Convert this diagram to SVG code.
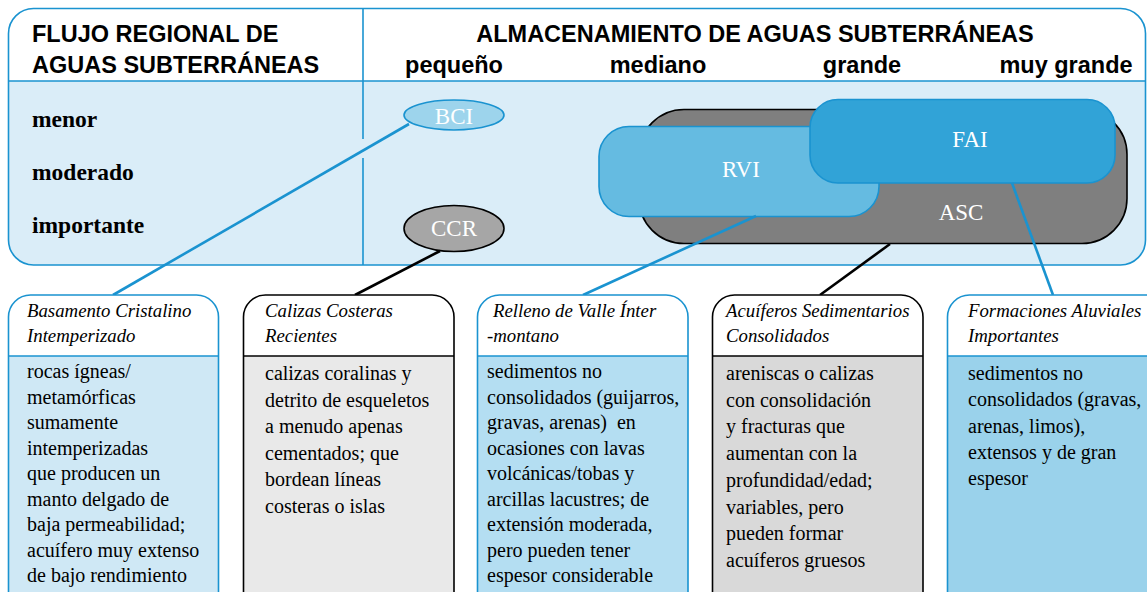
<svg xmlns="http://www.w3.org/2000/svg" width="1147" height="592" viewBox="0 0 1147 592">
<style>
.hs{font-family:"Liberation Sans",Arial,sans-serif;font-weight:bold;font-size:23.5px;fill:#000}
.rl{font-family:"Liberation Serif","Times New Roman",serif;font-weight:bold;font-size:23.5px;fill:#000}
.nl{font-family:"Liberation Serif","Times New Roman",serif;font-size:23px;fill:#fff;text-anchor:middle}
.tt{font-family:"Liberation Serif","Times New Roman",serif;font-style:italic;font-size:18.8px;fill:#000}
.bt{font-family:"Liberation Serif","Times New Roman",serif;font-size:20px;fill:#000}
.bl{stroke:#1a93d0;stroke-width:1.6}
.bk{stroke:#000;stroke-width:1.6}
.cb{stroke:#1a93d0;stroke-width:2.6;fill:none}
.ck{stroke:#000;stroke-width:2.6;fill:none}
</style>
<rect width="1147" height="592" fill="#fff"/>
<g id="panel">
<path d="M8.5,81 V33.5 A25,25 0 0 1 33.5,8.5 H1120.5 A25,25 0 0 1 1145.5,33.5 V81 Z" fill="#fff"/>
<path d="M8.5,81 V240 A25,25 0 0 0 33.5,265 H1120.5 A25,25 0 0 0 1145.5,240 V81 Z" fill="#daedf8"/>
<path d="M33.5,8.5 H1120.5 A25,25 0 0 1 1145.5,33.5 V240 A25,25 0 0 1 1120.5,265 H33.5 A25,25 0 0 1 8.5,240 V33.5 A25,25 0 0 1 33.5,8.5 Z" fill="none" class="bl"/>
<line x1="8.5" y1="81" x2="1145.5" y2="81" class="bl"/>
<line x1="363" y1="8.5" x2="363" y2="139" class="bl"/>
<line x1="363" y1="158" x2="363" y2="265" class="bl"/>
<text class="hs" x="32" y="42">FLUJO REGIONAL DE</text>
<text class="hs" x="32" y="73">AGUAS SUBTERRÁNEAS</text>
<text class="hs" x="755" y="42" text-anchor="middle">ALMACENAMIENTO DE AGUAS SUBTERRÁNEAS</text>
<text class="hs" x="454" y="73" text-anchor="middle">pequeño</text>
<text class="hs" x="658" y="73" text-anchor="middle">mediano</text>
<text class="hs" x="862" y="73" text-anchor="middle">grande</text>
<text class="hs" x="1066" y="73" text-anchor="middle">muy grande</text>
<text class="rl" x="32" y="127">menor</text>
<text class="rl" x="32" y="180">moderado</text>
<text class="rl" x="32" y="233">importante</text>
</g>
<g id="ASC">
<rect x="639" y="109.5" width="488" height="134" rx="45" fill="#7f7f7f" class="bk"/>
<text class="nl" x="961" y="220">ASC</text>
</g>
<g id="RVI">
<rect x="599" y="126.5" width="280" height="90" rx="30" fill="#65bbe1" class="bl"/>
<text class="nl" x="741" y="177">RVI</text>
</g>
<g id="FAI">
<rect x="810" y="99.5" width="305" height="83.5" rx="28" fill="#31a3d7" class="bl"/>
<text class="nl" x="970" y="147">FAI</text>
</g>
<g id="BCI">
<ellipse cx="454" cy="115" rx="50" ry="15" fill="#9dd4ec" class="bl"/>
<text class="nl" x="454" y="124">BCI</text>
</g>
<g id="CCR">
<ellipse cx="454" cy="228.5" rx="50" ry="23" fill="#a6a6a6" class="bk"/>
<text class="nl" x="454" y="236">CCR</text>
</g>
<g id="connectors">
<line x1="409" y1="124" x2="113" y2="295" class="cb"/>
<line x1="440" y1="251" x2="355" y2="295" class="ck"/>
<line x1="756" y1="216" x2="583" y2="295" class="cb"/>
<line x1="890" y1="244" x2="820" y2="295" class="ck"/>
<line x1="1012" y1="183" x2="1053" y2="295" class="cb"/>
</g>
<g id="box-bci">
<path d="M8.5,356 V317 A22,22 0 0 1 30.5,295 H196.5 A22,22 0 0 1 218.5,317 V356 Z" fill="#fff"/>
<rect x="8.5" y="356" width="210" height="260" fill="#cfe8f5"/>
<path d="M8.5,620 V317 A22,22 0 0 1 30.5,295 H196.5 A22,22 0 0 1 218.5,317 V620" fill="none" class="bl"/>
<line x1="8.5" y1="356" x2="218.5" y2="356" class="bl"/>
<text class="tt" x="27" y="317">Basamento Cristalino</text>
<text class="tt" x="27" y="342">Intemperizado</text>
<text class="bt" x="27" y="378">rocas ígneas/</text>
<text class="bt" x="27" y="403.5">metamórficas</text>
<text class="bt" x="27" y="429">sumamente</text>
<text class="bt" x="27" y="454.5">intemperizadas</text>
<text class="bt" x="27" y="480">que producen un</text>
<text class="bt" x="27" y="505.5">manto delgado de</text>
<text class="bt" x="27" y="531">baja permeabilidad;</text>
<text class="bt" x="27" y="556.5">acuífero muy extenso</text>
<text class="bt" x="27" y="582">de bajo rendimiento</text>
</g>
<g id="box-ccr">
<path d="M243.5,356 V317 A22,22 0 0 1 265.5,295 H432 A22,22 0 0 1 454,317 V356 Z" fill="#fff"/>
<rect x="243.5" y="356" width="210.5" height="260" fill="#e9e9e9"/>
<path d="M243.5,620 V317 A22,22 0 0 1 265.5,295 H432 A22,22 0 0 1 454,317 V620" fill="none" class="bk"/>
<line x1="243.5" y1="356" x2="454" y2="356" class="bk"/>
<text class="tt" x="265" y="317">Calizas Costeras</text>
<text class="tt" x="265" y="342">Recientes</text>
<text class="bt" x="265" y="380">calizas coralinas y</text>
<text class="bt" x="265" y="406.6">detrito de esqueletos</text>
<text class="bt" x="265" y="433.2">a menudo apenas</text>
<text class="bt" x="265" y="459.8">cementados; que</text>
<text class="bt" x="265" y="486.4">bordean líneas</text>
<text class="bt" x="265" y="513">costeras o islas</text>
</g>
<g id="box-rvi">
<path d="M477.5,356 V317 A22,22 0 0 1 499.5,295 H666 A22,22 0 0 1 688,317 V356 Z" fill="#fff"/>
<rect x="477.5" y="356" width="210.5" height="260" fill="#b4def2"/>
<path d="M477.5,620 V317 A22,22 0 0 1 499.5,295 H666 A22,22 0 0 1 688,317 V620" fill="none" class="bl"/>
<line x1="477.5" y1="356" x2="688" y2="356" class="bl"/>
<text class="tt" x="493" y="317">Relleno de Valle Ínter</text>
<text class="tt" x="487" y="342">-montano</text>
<text class="bt" x="487" y="378">sedimentos no</text>
<text class="bt" x="487" y="403.5">consolidados (guijarros,</text>
<text class="bt" x="487" y="429">gravas, arenas)&#160; en</text>
<text class="bt" x="487" y="454.5">ocasiones con lavas</text>
<text class="bt" x="487" y="480">volcánicas/tobas y</text>
<text class="bt" x="487" y="505.5">arcillas lacustres; de</text>
<text class="bt" x="487" y="531">extensión moderada,</text>
<text class="bt" x="487" y="556.5">pero pueden tener</text>
<text class="bt" x="487" y="582">espesor considerable</text>
</g>
<g id="box-asc">
<path d="M712.5,356 V317 A22,22 0 0 1 734.5,295 H901 A22,22 0 0 1 923,317 V356 Z" fill="#fff"/>
<rect x="712.5" y="356" width="210.5" height="260" fill="#d9d9d9"/>
<path d="M712.5,620 V317 A22,22 0 0 1 734.5,295 H901 A22,22 0 0 1 923,317 V620" fill="none" class="bk"/>
<line x1="712.5" y1="356" x2="923" y2="356" class="bk"/>
<text class="tt" x="726" y="317">Acuíferos Sedimentarios</text>
<text class="tt" x="726" y="342">Consolidados</text>
<text class="bt" x="726" y="380">areniscas o calizas</text>
<text class="bt" x="726" y="406.7">con consolidación</text>
<text class="bt" x="726" y="433.4">y fracturas que</text>
<text class="bt" x="726" y="460.1">aumentan con la</text>
<text class="bt" x="726" y="486.8">profundidad/edad;</text>
<text class="bt" x="726" y="513.5">variables, pero</text>
<text class="bt" x="726" y="540.2">pueden formar</text>
<text class="bt" x="726" y="567">acuíferos gruesos</text>
</g>
<g id="box-fai">
<path d="M947.5,356 V317 A22,22 0 0 1 969.5,295 H1160 V356 Z" fill="#fff"/>
<rect x="947.5" y="356" width="220" height="260" fill="#9ad2eb"/>
<path d="M947.5,620 V317 A22,22 0 0 1 969.5,295 H1160" fill="none" class="bl"/>
<line x1="947.5" y1="356" x2="1160" y2="356" class="bl"/>
<text class="tt" x="968" y="317">Formaciones Aluviales</text>
<text class="tt" x="968" y="342">Importantes</text>
<text class="bt" x="968" y="380">sedimentos no</text>
<text class="bt" x="968" y="406.3">consolidados (gravas,</text>
<text class="bt" x="968" y="432.5">arenas, limos),</text>
<text class="bt" x="968" y="458.8">extensos y de gran</text>
<text class="bt" x="968" y="485">espesor</text>
</g>
</svg>
